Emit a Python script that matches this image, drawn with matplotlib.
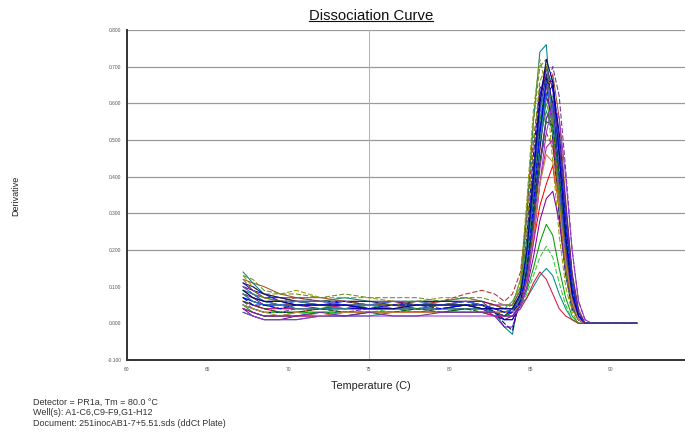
import matplotlib
matplotlib.use("Agg")
import matplotlib.pyplot as plt
from matplotlib.lines import Line2D

plt.rcParams['font.family'] = ['Liberation Sans', 'DejaVu Sans']

# temperature grid (C) shared by every well
temps = [67.2, 67.8, 68.5, 69.5, 70.5, 72.0, 73.5, 75.0, 76.5, 78.0, 79.5, 81.0, 82.0, 82.8, 83.4,
         83.9, 84.4, 84.8, 85.2, 85.6, 86.0, 86.4, 86.8, 87.2, 87.6, 88.0, 88.4, 88.8, 91.6]

# derivative before melting (67.2 .. 83.4 C)
pre_melt = [
    [0.14, 0.11, 0.08, 0.07, 0.07, 0.06, 0.07, 0.06, 0.06, 0.06, 0.06, 0.07, 0.06, 0.03, -0.01],
    [0.13, 0.10, 0.08, 0.08, 0.09, 0.07, 0.07, 0.07, 0.06, 0.06, 0.07, 0.07, 0.06, 0.05, 0.04],
    [0.12, 0.11, 0.10, 0.08, 0.07, 0.07, 0.06, 0.06, 0.06, 0.05, 0.06, 0.06, 0.06, 0.05, 0.04],
    [0.11, 0.09, 0.08, 0.06, 0.06, 0.05, 0.06, 0.05, 0.05, 0.05, 0.05, 0.06, 0.05, 0.04, 0.03],
    [0.10, 0.08, 0.06, 0.06, 0.05, 0.05, 0.05, 0.05, 0.05, 0.05, 0.05, 0.05, 0.05, 0.03, 0.00],
    [0.10, 0.09, 0.07, 0.07, 0.06, 0.06, 0.06, 0.05, 0.06, 0.05, 0.05, 0.06, 0.06, 0.05, 0.05],
    [0.09, 0.07, 0.06, 0.05, 0.05, 0.05, 0.04, 0.05, 0.04, 0.04, 0.05, 0.05, 0.05, 0.04, 0.03],
    [0.09, 0.08, 0.07, 0.06, 0.07, 0.06, 0.05, 0.05, 0.05, 0.05, 0.06, 0.08, 0.09, 0.08, 0.06],
    [0.08, 0.06, 0.05, 0.04, 0.04, 0.04, 0.04, 0.04, 0.04, 0.04, 0.04, 0.04, 0.04, 0.03, 0.02],
    [0.08, 0.07, 0.05, 0.05, 0.05, 0.04, 0.05, 0.04, 0.05, 0.04, 0.04, 0.05, 0.04, 0.02, -0.01],
    [0.07, 0.05, 0.04, 0.04, 0.04, 0.04, 0.04, 0.04, 0.04, 0.04, 0.04, 0.04, 0.04, 0.04, 0.03],
    [0.07, 0.06, 0.05, 0.04, 0.05, 0.05, 0.04, 0.05, 0.04, 0.05, 0.05, 0.05, 0.05, 0.04, 0.04],
    [0.06, 0.05, 0.04, 0.03, 0.03, 0.04, 0.04, 0.04, 0.04, 0.04, 0.04, 0.04, 0.04, 0.03, 0.03],
    [0.06, 0.04, 0.03, 0.03, 0.04, 0.04, 0.03, 0.04, 0.04, 0.03, 0.04, 0.04, 0.04, 0.04, 0.04],
    [0.05, 0.04, 0.03, 0.03, 0.03, 0.03, 0.03, 0.03, 0.03, 0.03, 0.03, 0.04, 0.04, 0.03, 0.02],
    [0.05, 0.03, 0.02, 0.02, 0.03, 0.03, 0.03, 0.03, 0.03, 0.03, 0.03, 0.03, 0.03, 0.03, 0.02],
    [0.04, 0.03, 0.02, 0.02, 0.02, 0.03, 0.03, 0.03, 0.03, 0.03, 0.03, 0.03, 0.03, 0.03, 0.03],
    [0.04, 0.02, 0.01, 0.01, 0.02, 0.02, 0.02, 0.03, 0.03, 0.03, 0.03, 0.03, 0.03, 0.02, 0.01],
    [0.03, 0.02, 0.01, 0.01, 0.01, 0.02, 0.02, 0.02, 0.03, 0.03, 0.03, 0.03, 0.03, 0.03, 0.02],
    [0.13, 0.12, 0.09, 0.08, 0.08, 0.07, 0.08, 0.07, 0.07, 0.07, 0.06, 0.07, 0.07, 0.06, 0.05],
    [0.11, 0.10, 0.08, 0.07, 0.06, 0.06, 0.06, 0.06, 0.05, 0.06, 0.06, 0.06, 0.05, 0.03, 0.01],
    [0.09, 0.08, 0.07, 0.06, 0.06, 0.05, 0.05, 0.05, 0.05, 0.05, 0.05, 0.05, 0.05, 0.04, 0.04],
    [0.08, 0.07, 0.06, 0.05, 0.05, 0.05, 0.05, 0.05, 0.05, 0.04, 0.05, 0.05, 0.05, 0.05, 0.04],
    [0.07, 0.06, 0.05, 0.05, 0.04, 0.04, 0.04, 0.04, 0.04, 0.04, 0.04, 0.05, 0.04, 0.03, 0.01],
    [0.06, 0.05, 0.04, 0.04, 0.04, 0.04, 0.05, 0.04, 0.04, 0.04, 0.04, 0.04, 0.04, 0.04, 0.03],
    [0.05, 0.04, 0.03, 0.03, 0.03, 0.03, 0.03, 0.03, 0.04, 0.03, 0.03, 0.04, 0.03, 0.03, 0.03],
    [0.04, 0.03, 0.02, 0.02, 0.02, 0.02, 0.03, 0.03, 0.03, 0.03, 0.03, 0.03, 0.03, 0.02, 0.02],
    [0.03, 0.02, 0.01, 0.01, 0.01, 0.02, 0.02, 0.02, 0.02, 0.02, 0.02, 0.02, 0.02, 0.02, 0.02],
    [0.12, 0.09, 0.07, 0.06, 0.06, 0.06, 0.06, 0.05, 0.05, 0.06, 0.05, 0.05, 0.05, 0.04, 0.03],
    [0.10, 0.08, 0.06, 0.05, 0.06, 0.06, 0.05, 0.05, 0.06, 0.06, 0.05, 0.06, 0.05, 0.04, 0.03],
    [0.08, 0.06, 0.05, 0.05, 0.04, 0.04, 0.04, 0.05, 0.04, 0.04, 0.04, 0.04, 0.04, 0.03, 0.03],
    [0.06, 0.05, 0.04, 0.03, 0.03, 0.04, 0.03, 0.03, 0.03, 0.04, 0.03, 0.04, 0.03, 0.03, 0.02],
    [0.05, 0.04, 0.03, 0.02, 0.03, 0.02, 0.03, 0.03, 0.03, 0.03, 0.03, 0.03, 0.03, 0.03, 0.03],
    [0.09, 0.07, 0.06, 0.06, 0.05, 0.05, 0.05, 0.04, 0.04, 0.05, 0.05, 0.05, 0.04, 0.04, 0.04],
    [0.07, 0.05, 0.05, 0.04, 0.05, 0.05, 0.05, 0.04, 0.05, 0.05, 0.04, 0.05, 0.05, 0.04, 0.03],
    [0.04, 0.03, 0.02, 0.02, 0.02, 0.03, 0.02, 0.03, 0.02, 0.02, 0.03, 0.03, 0.03, 0.03, 0.02],
]

# derivative through the melt peak (83.9 .. 91.6 C)
melt = [
    [-0.03, 0.09, 0.30, 0.55, 0.74, 0.76, 0.52, 0.30, 0.13, 0.04, 0.01, 0.0, 0.0, 0.0],
    [0.05, 0.12, 0.34, 0.58, 0.72, 0.64, 0.44, 0.24, 0.10, 0.03, 0.0, 0.0, 0.0, 0.0],
    [0.04, 0.07, 0.14, 0.30, 0.47, 0.62, 0.68, 0.56, 0.34, 0.14, 0.04, 0.0, 0.0, 0.0],
    [0.03, 0.08, 0.22, 0.42, 0.62, 0.70, 0.58, 0.38, 0.18, 0.06, 0.01, 0.0, 0.0, 0.0],
    [-0.02, 0.07, 0.24, 0.46, 0.64, 0.67, 0.50, 0.30, 0.14, 0.04, 0.01, 0.0, 0.0, 0.0],
    [0.05, 0.09, 0.20, 0.40, 0.60, 0.70, 0.64, 0.45, 0.24, 0.09, 0.02, 0.0, 0.0, 0.0],
    [0.04, 0.08, 0.18, 0.36, 0.55, 0.66, 0.60, 0.40, 0.20, 0.07, 0.01, 0.0, 0.0, 0.0],
    [0.08, 0.14, 0.30, 0.50, 0.64, 0.66, 0.52, 0.32, 0.15, 0.05, 0.01, 0.0, 0.0, 0.0],
    [0.03, 0.06, 0.14, 0.28, 0.44, 0.56, 0.58, 0.46, 0.28, 0.11, 0.03, 0.0, 0.0, 0.0],
    [-0.01, 0.06, 0.18, 0.36, 0.53, 0.62, 0.56, 0.38, 0.19, 0.06, 0.01, 0.0, 0.0, 0.0],
    [0.04, 0.08, 0.20, 0.38, 0.56, 0.68, 0.66, 0.48, 0.26, 0.10, 0.02, 0.0, 0.0, 0.0],
    [0.06, 0.10, 0.22, 0.38, 0.52, 0.60, 0.54, 0.36, 0.18, 0.06, 0.01, 0.0, 0.0, 0.0],
    [0.03, 0.06, 0.12, 0.22, 0.32, 0.38, 0.43, 0.32, 0.16, 0.05, 0.01, 0.0, 0.0, 0.0],
    [0.04, 0.07, 0.16, 0.32, 0.50, 0.64, 0.70, 0.62, 0.42, 0.20, 0.06, 0.01, 0.0, 0.0],
    [0.04, 0.07, 0.15, 0.30, 0.48, 0.62, 0.65, 0.52, 0.32, 0.13, 0.03, 0.0, 0.0, 0.0],
    [0.03, 0.05, 0.09, 0.15, 0.22, 0.27, 0.24, 0.15, 0.07, 0.02, 0.0, 0.0, 0.0, 0.0],
    [0.03, 0.06, 0.16, 0.32, 0.50, 0.63, 0.60, 0.42, 0.22, 0.08, 0.02, 0.0, 0.0, 0.0],
    [0.02, 0.05, 0.10, 0.18, 0.28, 0.34, 0.36, 0.28, 0.14, 0.05, 0.01, 0.0, 0.0, 0.0],
    [0.03, 0.05, 0.07, 0.10, 0.13, 0.15, 0.13, 0.08, 0.04, 0.01, 0.0, 0.0, 0.0, 0.0],
    [0.05, 0.12, 0.32, 0.55, 0.70, 0.72, 0.54, 0.32, 0.14, 0.04, 0.01, 0.0, 0.0, 0.0],
    [0.01, 0.06, 0.18, 0.38, 0.58, 0.68, 0.60, 0.40, 0.20, 0.06, 0.01, 0.0, 0.0, 0.0],
    [0.04, 0.08, 0.18, 0.34, 0.50, 0.58, 0.52, 0.35, 0.17, 0.06, 0.01, 0.0, 0.0, 0.0],
    [0.04, 0.07, 0.16, 0.30, 0.44, 0.52, 0.48, 0.32, 0.16, 0.05, 0.01, 0.0, 0.0, 0.0],
    [0.01, 0.05, 0.14, 0.32, 0.52, 0.66, 0.66, 0.50, 0.28, 0.10, 0.02, 0.0, 0.0, 0.0],
    [0.03, 0.06, 0.12, 0.24, 0.38, 0.48, 0.50, 0.38, 0.20, 0.07, 0.01, 0.0, 0.0, 0.0],
    [0.03, 0.05, 0.08, 0.13, 0.18, 0.21, 0.18, 0.11, 0.05, 0.01, 0.0, 0.0, 0.0, 0.0],
    [0.02, 0.04, 0.07, 0.11, 0.14, 0.12, 0.08, 0.04, 0.02, 0.01, 0.0, 0.0, 0.0, 0.0],
    [0.02, 0.04, 0.10, 0.22, 0.38, 0.52, 0.60, 0.56, 0.40, 0.20, 0.06, 0.01, 0.0, 0.0],
    [0.04, 0.10, 0.26, 0.48, 0.66, 0.70, 0.56, 0.34, 0.16, 0.05, 0.01, 0.0, 0.0, 0.0],
    [0.04, 0.08, 0.20, 0.40, 0.58, 0.66, 0.58, 0.38, 0.18, 0.06, 0.01, 0.0, 0.0, 0.0],
    [0.03, 0.07, 0.16, 0.32, 0.50, 0.62, 0.62, 0.46, 0.26, 0.09, 0.02, 0.0, 0.0, 0.0],
    [0.03, 0.06, 0.14, 0.28, 0.44, 0.55, 0.54, 0.40, 0.22, 0.08, 0.02, 0.0, 0.0, 0.0],
    [0.03, 0.05, 0.12, 0.24, 0.38, 0.46, 0.44, 0.32, 0.17, 0.06, 0.01, 0.0, 0.0, 0.0],
    [0.04, 0.08, 0.20, 0.40, 0.60, 0.72, 0.66, 0.46, 0.24, 0.08, 0.02, 0.0, 0.0, 0.0],
    [0.03, 0.06, 0.15, 0.32, 0.52, 0.66, 0.64, 0.47, 0.26, 0.09, 0.02, 0.0, 0.0, 0.0],
    [0.02, 0.05, 0.12, 0.26, 0.42, 0.56, 0.60, 0.50, 0.32, 0.13, 0.03, 0.0, 0.0, 0.0],
]

well_colors = ['#008080', '#9a9a00', '#a0522d', '#0000ff', '#000080', '#800080',
               '#008000', '#b03030', '#1f3fbf', '#6a0dad', '#20a0a0', '#3cb043',
               '#ff0000', '#7030a0', '#00008b', '#00a000', '#0050ff', '#8000a0',
               '#008b8b', '#6b8e23', '#191970', '#2e8b57', '#8b4513', '#0000cd',
               '#c71585', '#32cd32', '#dc143c', '#9932cc', '#808000', '#4169e1',
               '#2f8f8f', '#006400', '#cd853f', '#000080', '#0000ff', '#663399']

y_ticks = [-0.1, 0.0, 0.1, 0.2, 0.3, 0.4, 0.5, 0.6, 0.7, 0.8]
y_grid = [0.2, 0.3, 0.4, 0.5, 0.6, 0.7, 0.8]
x_ticks = [60, 65, 70, 75, 80, 85, 90]

info_lines = ["Detector = PR1a, Tm = 80.0 \u00b0C",
              "Well(s): A1-C6,C9-F9,G1-H12",
              "Document: 251inocAB1-7+5.51.sds (ddCt Plate)"]

fig = plt.figure(figsize=(6.85, 4.34), dpi=100)
ax = fig.add_axes([127 / 685, 1 - 360 / 434, 558 / 685, 330 / 434])

for y in y_grid:
    ax.axhline(y, color='#9a9a9a', lw=0.9, zorder=0)
ax.axvline(75, color='#b0b0b0', lw=0.7, zorder=0)

for i in range(len(melt)):
    vals = pre_melt[i] + melt[i]
    ls = (0, (5, 2)) if i % 3 == 1 else '-'
    ax.plot(temps, vals, color=well_colors[i], lw=0.75, ls=ls, zorder=2)

ax.set_xlim(60, 94.6)
ax.set_ylim(-0.1, 0.8)
ax.set_xticks(x_ticks)
ax.set_xticklabels([str(t) for t in x_ticks])
ax.set_yticks(y_ticks)
ax.set_yticklabels([f"{t:.3f}" for t in y_ticks])
ax.tick_params(length=0, labelsize=3.5, labelcolor='#555555')
ax.tick_params(axis='x', pad=5)
ax.tick_params(axis='y', pad=4)
for side in ['top', 'right']:
    ax.spines[side].set_visible(False)
for side in ['left', 'bottom']:
    ax.spines[side].set_color('#333333')
    ax.spines[side].set_linewidth(1.4)

title = fig.text(371 / 685, 1 - 16 / 434, "Dissociation Curve", ha='center', va='center',
                 fontsize=10.7, color='#111111')
fig.text(16 / 685, 1 - 196 / 434, "Derivative", rotation=90, ha='center', va='center',
         fontsize=6.5, color='#222222')
fig.text(371 / 685, 1 - 386 / 434, "Temperature (C)", ha='center', va='center',
         fontsize=7.8, color='#222222')
for k, line in enumerate(info_lines):
    fig.text(33 / 685, 1 - (402 + 10.7 * k) / 434, line, ha='left', va='center',
             fontsize=6.5, color='#333333')

# underline the title
fig.canvas.draw()
bb = title.get_window_extent(renderer=fig.canvas.get_renderer())
bb = bb.transformed(fig.transFigure.inverted())
fig.add_artist(Line2D([bb.x0, bb.x1], [bb.y0 + 0.004, bb.y0 + 0.004],
                      transform=fig.transFigure, color='#111111', lw=0.8))

fig.savefig("out.png", dpi=100)
